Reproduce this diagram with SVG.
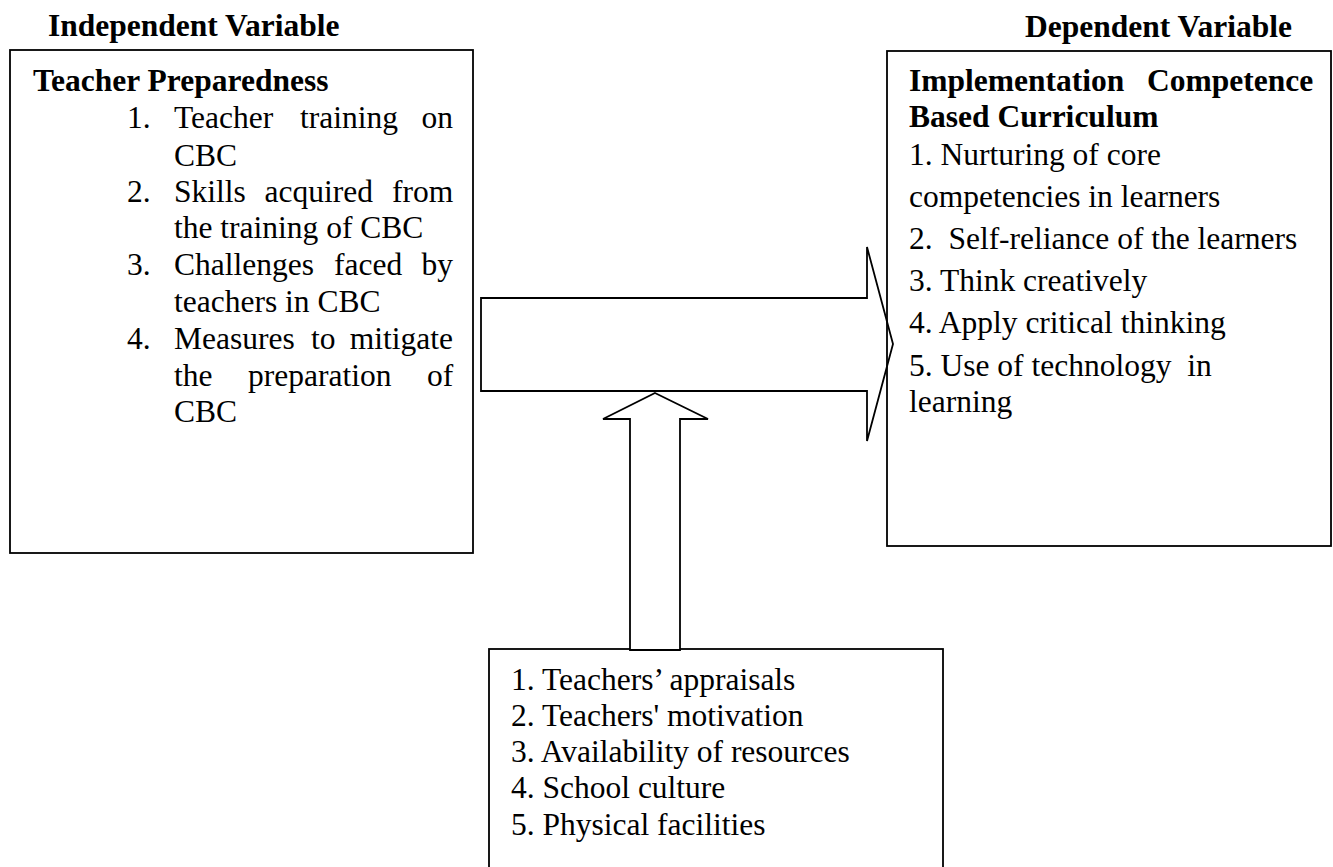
<svg xmlns="http://www.w3.org/2000/svg" width="1333" height="867" viewBox="0 0 1333 867">
<style>
text{font-family:"Liberation Serif","Times New Roman",serif;font-size:31.5px;fill:#000;white-space:pre}
.b{font-weight:bold}
.box{fill:none;stroke:#000;stroke-width:1.8}
.arr{fill:none;stroke:#000;stroke-width:1.8;stroke-linejoin:miter}
</style>
<rect width="1333" height="867" fill="#fff"/>
<g id="labels">
<text class="b" x="48" y="36">Independent Variable</text>
<text class="b" x="1025" y="37">Dependent Variable</text>
</g>
<g id="independent">
<rect class="box" x="10" y="50" width="463" height="503"/>
<text class="b" x="33" y="91">Teacher Preparedness</text>
<text x="127" y="128">1.</text>
<text y="128"><tspan x="174">Teacher</tspan><tspan x="300">training</tspan><tspan x="421.5">on</tspan></text>
<text x="174" y="166">CBC</text>
<text x="127" y="202">2.</text>
<text y="202"><tspan x="174">Skills</tspan><tspan x="264.5">acquired</tspan><tspan x="392">from</tspan></text>
<text x="174" y="238">the training of CBC</text>
<text x="127" y="275">3.</text>
<text y="275"><tspan x="174">Challenges</tspan><tspan x="334">faced</tspan><tspan x="421.5">by</tspan></text>
<text x="174" y="312">teachers in CBC</text>
<text x="127" y="349">4.</text>
<text y="349"><tspan x="174">Measures</tspan><tspan x="311">to</tspan><tspan x="349.7">mitigate</tspan></text>
<text y="386"><tspan x="174">the</tspan><tspan x="248">preparation</tspan><tspan x="427">of</tspan></text>
<text x="174" y="422">CBC</text>
</g>
<g id="dependent">
<rect class="box" x="887" y="51" width="444" height="495"/>
<text class="b" y="91"><tspan x="909">Implementation</tspan><tspan x="1147">Competence</tspan></text>
<text class="b" x="909" y="127">Based Curriculum</text>
<text x="909" y="165">1. Nurturing of core</text>
<text x="909" y="207">competencies in learners</text>
<text x="909" y="249">2.  Self-reliance of the learners</text>
<text x="909" y="291">3. Think creatively</text>
<text x="909" y="333">4. Apply critical thinking</text>
<text x="909" y="376">5. Use of technology  in</text>
<text x="909" y="412">learning</text>
</g>
<g id="moderating">
<rect class="box" x="489" y="649" width="454" height="240"/>
<text x="511" y="690">1. Teachers’ appraisals</text>
<text x="511" y="726">2. Teachers' motivation</text>
<text x="511" y="762">3. Availability of resources</text>
<text x="511" y="798">4. School culture</text>
<text x="511" y="835">5. Physical facilities</text>
</g>
<g id="connectors">
<polygon class="arr" points="481,298 867,298 867,247 893,344 867,441 867,391 481,391"/>
<polygon class="arr" points="655,393 708,419 680,419 680,650 630,650 630,419 603,419" style="fill:#fff"/>
</g>
</svg>
